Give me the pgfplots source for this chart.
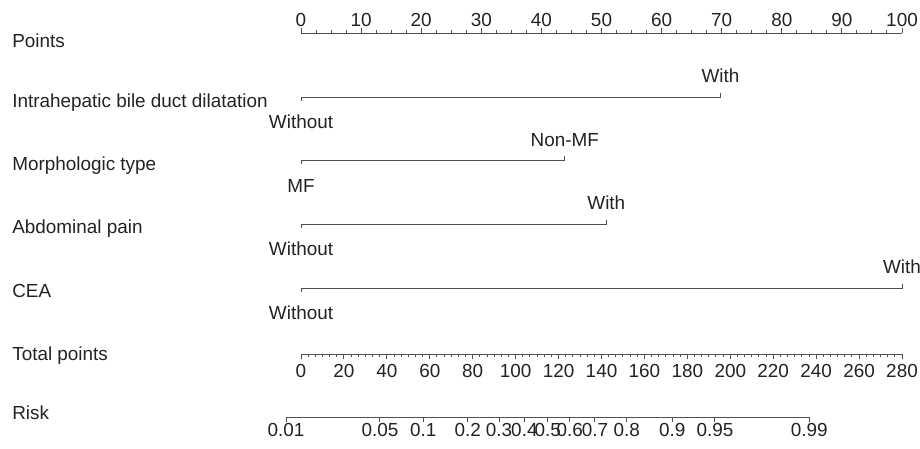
\documentclass[border=0pt]{standalone}
\usepackage{pgfplots}
\pgfplotsset{compat=1.18}
\usepackage{fontspec}
\setmainfont{Liberation Sans}
\definecolor{linec}{RGB}{80,80,80}
\definecolor{txtc}{RGB}{35,35,35}
\pgfplotsset{
  nomo/.style={
    scale only axis, axis y line=none, enlargelimits=false,
    ymin=0, ymax=1, height=5pt,
    major tick length=2.5pt, minor tick length=1.3pt,
    tick label style={text=txtc, font=\fontsize{9.45}{11}\selectfont},
    /pgf/number format/assume math mode=true,
  },
  nomoline/.style={
    axis line style={-, linec, line width=0.5pt},
    x axis line style={-},
    every outer x axis line/.append style={-},
    every inner x axis line/.append style={-},
    every tick/.style={linec, line width=0.5pt},
    x tick style={linec, line width=0.5pt},
  }
}
\begin{document}
\begin{tikzpicture}
\fontsize{9.45}{11}\selectfont
\useasboundingbox (0pt,0pt) rectangle (460pt,-224.5pt);

% Points scale
\begin{axis}[nomo, at={(150.5pt,-16.5pt)}, anchor=north west, width=300.5pt,
  xmin=0, xmax=100, axis x line=top, nomoline, xtick align=outside,
  major tick length=2.5pt, minor tick length=1.3pt,
  xtick={0,10,...,100}, minor x tick num=3,
  xticklabel style={anchor=base, yshift=0.5pt}]
\end{axis}

% Total points scale
\begin{axis}[nomo, at={(150.5pt,-177pt)}, anchor=south west, width=300.5pt,
  xmin=0, xmax=280, axis x line=bottom, nomoline, xtick align=outside,
  xtick={0,20,...,280}, minor x tick num=5, xticklabel style={yshift=0.5pt}]
\end{axis}

% Risk scale
\begin{axis}[nomo, at={(143pt,-208.65pt)}, anchor=south west, width=261.65pt,
  xmin=-7, xmax=236.9, axis x line=bottom, nomoline, xtick align=outside,
  xticklabel style={yshift=3pt},
  xtick={-7,36.8,57,77.7,92.3,104.1,115,125.3,137,151.8,173,192.9,236.9},
  xticklabels={0.01,0.05,0.1,0.2,0.3,0.4,0.5,0.6,0.7,0.8,0.9,0.95,0.99}]
\end{axis}

% Variable lines
\begin{axis}[hide axis, scale only axis, at={(150.5pt,0pt)}, anchor=north west,
  width=300.5pt, height=224.5pt, xmin=0, xmax=100, ymin=0, ymax=449,
  y dir=reverse, enlargelimits=false, clip=false]
\addplot[linec, line width=0.5pt] coordinates {(0,101) (0,97) (69.8,97) (69.8,93)};
\addplot[linec, line width=0.5pt] coordinates {(0,164) (0,160) (43.9,160) (43.9,156)};
\addplot[linec, line width=0.5pt] coordinates {(0,228) (0,224) (50.8,224) (50.8,220)};
\addplot[linec, line width=0.5pt] coordinates {(0,292) (0,288) (100,288) (100,284)};

\begin{scope}[every node/.style={text=txtc, font=\fontsize{9.45}{11}\selectfont, inner sep=0pt}]
\node[anchor=base] at (axis cs:69.8,82) {With};
\node[anchor=base] at (axis cs:0,128) {Without};
\node[anchor=base] at (axis cs:43.9,146) {Non-MF};
\node[anchor=base] at (axis cs:0,192) {MF};
\node[anchor=base] at (axis cs:50.8,209) {With};
\node[anchor=base] at (axis cs:0,255) {Without};
\node[anchor=base] at (axis cs:100,273) {With};
\node[anchor=base] at (axis cs:0,319) {Without};

\node[anchor=base west] at (axis cs:-48.1,47) {Points};
\node[anchor=base west] at (axis cs:-48.1,107) {Intrahepatic bile duct dilatation};
\node[anchor=base west] at (axis cs:-48.1,170) {Morphologic type};
\node[anchor=base west] at (axis cs:-48.1,233) {Abdominal pain};
\node[anchor=base west] at (axis cs:-48.1,297) {CEA};
\node[anchor=base west] at (axis cs:-48.1,360) {Total points};
\node[anchor=base west] at (axis cs:-48.1,419) {Risk};
\end{scope}
\end{axis}
\end{tikzpicture}
\end{document}
